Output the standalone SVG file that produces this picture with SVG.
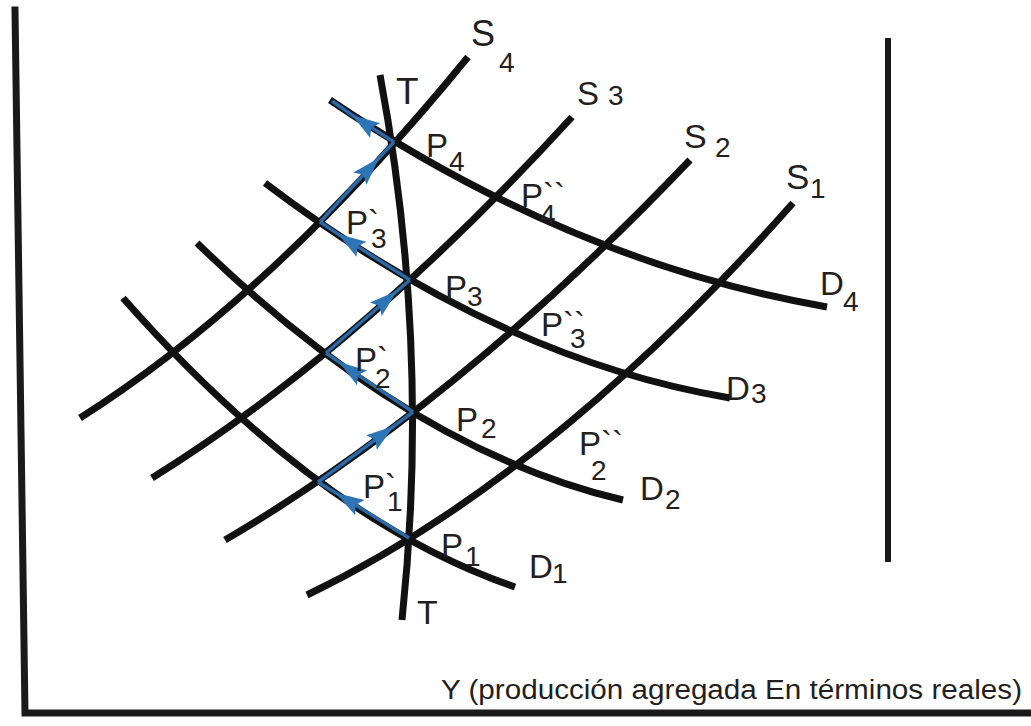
<svg xmlns="http://www.w3.org/2000/svg" width="1031" height="726" viewBox="0 0 1031 726">
<style>
.ax{fill:none;stroke:#1a1a1a;stroke-width:7;stroke-linecap:square}
.cv{fill:none;stroke:#111;stroke-width:7;stroke-linecap:butt}
.bl{fill:none;stroke:#2b68a6;stroke-width:3.5;marker-mid:url(#ah)}
.lb{font-family:"Liberation Sans",Arial,sans-serif;fill:#231f20;font-size:33px}
.sb{font-size:28px}
</style>
<defs>
<marker id="ah" markerUnits="userSpaceOnUse" viewBox="0 0 30 18" markerWidth="30" markerHeight="18" refX="28" refY="9" orient="auto" overflow="visible">
<path d="M0,0 L28,9 L0,18 L5,9 z" fill="#2e75b6"/>
</marker>
</defs>
<rect width="1031" height="726" fill="#fff"/>
<g id="axes">
<path class="ax" d="M15,10 L25,713 L1031,713"/>
<path class="ax" d="M888,38 L888,562" style="stroke-width:6;stroke-linecap:butt"/>
</g>
<g id="connectors">
<path id="S4" class="cv" d="M80,418 Q274,295 468,57"/>
<path id="S3" class="cv" d="M152,478 Q362,347 572,117"/>
<path id="S2" class="cv" d="M225,540 Q457.5,404 690,160"/>
<path id="S1" class="cv" d="M307,595 Q550,478 793,203"/>
<path id="D4" class="cv" d="M330,100 Q570,262 827,307"/>
<path id="D3" class="cv" d="M265,183 Q497.5,359 730,398"/>
<path id="D2" class="cv" d="M197,243 Q410,450 623,500"/>
<path id="D1" class="cv" d="M123,298 Q319,520 515,587"/>
<path id="T" class="cv" d="M380,75 Q431,347.5 402,620"/>
<g id="arrows">
<path class="bl" d="M409,538 L336,493 L318,482"/>
<path class="bl" d="M318,482 L394,426 L413,412"/>
<path class="bl" d="M413,412 L339,362 L326,353"/>
<path class="bl" d="M326,353 L397,291 L410,280"/>
<path class="bl" d="M410,280 L338,234 L320,222"/>
<path class="bl" d="M320,222 L379,158 L394,142"/>
<path class="bl" d="M394,142 L352,115 L332,101"/>
</g>
</g>
<g id="labels">
<g id="lab-T-top"><text class="lb" x="396" y="104" style="font-size:37px">T</text></g>
<g id="lab-T-bot"><text class="lb" x="417" y="624" style="font-size:34px">T</text></g>
<g id="lab-S4"><text class="lb" x="471" y="46" style="font-size:36px">S<tspan class="sb" x="499" y="72">4</tspan></text></g>
<g id="lab-S3"><text class="lb" x="577" y="105">S<tspan class="sb" x="608" y="105">3</tspan></text></g>
<g id="lab-S2"><text class="lb" x="684" y="148" style="font-size:34px">S<tspan class="sb" x="715" y="157">2</tspan></text></g>
<g id="lab-S1"><text class="lb" x="786" y="189" style="font-size:35px">S<tspan class="sb" x="810" y="198">1</tspan></text></g>
<g id="lab-P4"><text class="lb" x="426" y="157">P<tspan class="sb" x="449" y="171">4</tspan></text></g>
<g id="lab-P3"><text class="lb" x="445" y="299">P<tspan class="sb" x="467" y="306">3</tspan></text></g>
<g id="lab-P2"><text class="lb" x="456" y="431">P<tspan class="sb" x="481" y="438">2</tspan></text></g>
<g id="lab-P1"><text class="lb" x="441" y="557">P<tspan class="sb" x="465" y="566">1</tspan></text></g>
<g id="lab-P3p"><text class="lb" x="346" y="234">P`<tspan class="sb" x="371" y="248">3</tspan></text></g>
<g id="lab-P2p"><text class="lb" x="355" y="371">P`<tspan class="sb" x="375" y="388">2</tspan></text></g>
<g id="lab-P1p"><text class="lb" x="363" y="498">P`<tspan class="sb" x="387" y="511">1</tspan></text></g>
<g id="lab-P4pp"><text class="lb" x="521" y="207">P``<tspan class="sb" x="540" y="224">4</tspan></text></g>
<g id="lab-P3pp"><text class="lb" x="541" y="336">P``<tspan class="sb" x="570" y="348">3</tspan></text></g>
<g id="lab-P2pp"><text class="lb" x="579" y="455">P``<tspan class="sb" x="591" y="480">2</tspan></text></g>
<g id="lab-D4"><text class="lb" x="820" y="295">D<tspan class="sb" x="843" y="311">4</tspan></text></g>
<g id="lab-D3"><text class="lb" x="726" y="400">D<tspan class="sb" x="751" y="403">3</tspan></text></g>
<g id="lab-D2"><text class="lb" x="640" y="500">D<tspan class="sb" x="665" y="509">2</tspan></text></g>
<g id="lab-D1"><text class="lb" x="529" y="578">D<tspan class="sb" x="552" y="583">1</tspan></text></g>
<g id="lab-Y"><text class="lb" x="441" y="699" style="font-size:27px" textLength="581" lengthAdjust="spacingAndGlyphs">Y (producción agregada En términos reales)</text></g>
</g>
</svg>
